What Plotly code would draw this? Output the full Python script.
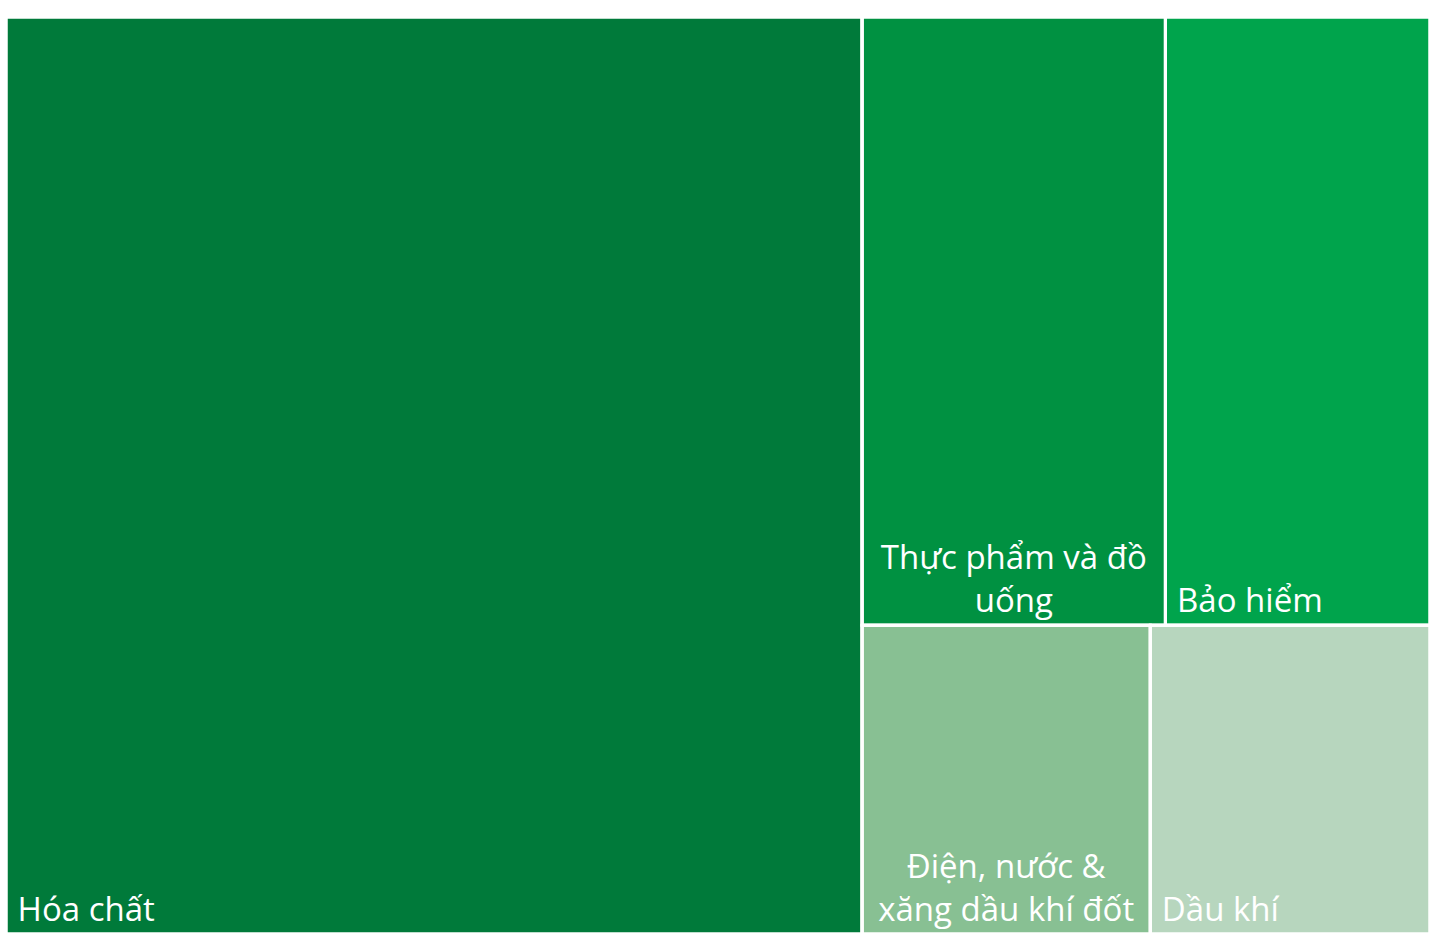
import plotly.graph_objects as go

labels = ["Hóa chất", "Thực phẩm và đồ uống", "Bảo hiểm", "Điện, nước & xăng dầu khí đốt", "Dầu khí"]
text_left = ["\u00a0Hóa chất", "", "\u00a0Bảo hiểm", "", "\u00a0Dầu khí"]
text_center = ["", "Thực phẩm và đồ<br>uống", "", "Điện, nước &<br>xăng dầu khí đốt", ""]
values = [60.0, 14.1, 12.3, 6.8, 6.6]
colors = ["#007A3A", "#009141", "#00A44C", "#88C093", "#B7D6BE"]


def make_trace(texts, pos, fill_colors, hover):
    return go.Treemap(
        labels=labels,
        parents=[""] * len(labels),
        values=values,
        text=texts,
        textinfo="text",
        textposition=pos,
        textfont=dict(family="Open Sans", size=33, color="white"),
        marker=dict(colors=fill_colors, line=dict(color="white", width=3),
                    pad=dict(t=0, l=0, r=0, b=0)),
        pathbar=dict(visible=False),
        sort=True,
        tiling=dict(packing="squarify", squarifyratio=1.5, pad=0),
        domain=dict(x=[0, 1], y=[0, 1]),
        hovertemplate="%{label}: %{value}<extra></extra>" if hover else None,
        hoverinfo=None if hover else "skip",
    )


fig = go.Figure()
fig.add_trace(make_trace(text_left, "bottom left", colors, True))
fig.add_trace(make_trace(text_center, "bottom center",
                         ["rgba(0,0,0,0)"] * len(labels), False))

fig.update_layout(
    width=1430,
    height=934,
    margin=dict(l=6, r=0, t=17, b=0),
    paper_bgcolor="white",
    uniformtext=dict(minsize=33, mode="show"),
)

fig.write_html(
    "out.html",
    config={"displayModeBar": False},
    post_script="document.body.style.margin='0';document.body.style.overflow='hidden';",
)
